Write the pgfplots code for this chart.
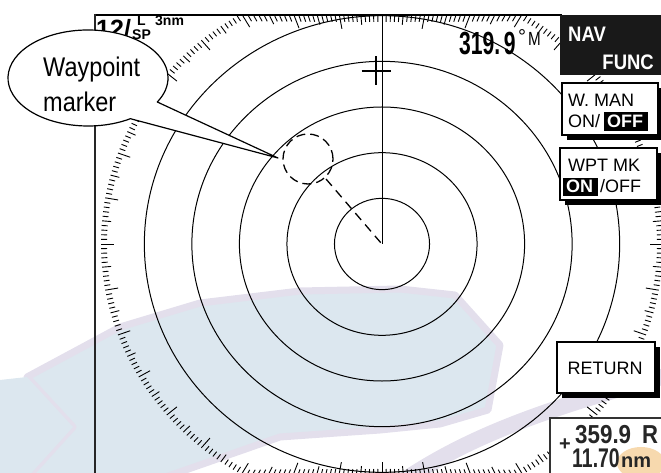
\documentclass[border=0pt]{standalone}
\usepackage{pgfplots}
\pgfplotsset{compat=1.18}
\usepackage{fontspec}
\setmainfont{Liberation Sans}
\usepackage{graphicx}
\definecolor{wmblue}{HTML}{DCE7EF}
\definecolor{wmlav}{HTML}{E3DFEC}
\definecolor{wmorange}{HTML}{F7D9AE}
\begin{document}
\begin{tikzpicture}
\useasboundingbox (0,0) rectangle (661pt,473pt);
\clip (0,0) rectangle (661pt,473pt);
% ---- faint watermark ----
\begin{scope}[shift={(0,473pt)}, x=1pt, y=-1pt]
\draw[wmlav, line width=16pt] (390,490) .. controls (470,432) and (560,405) .. (680,372);
\filldraw[fill=wmblue, draw=wmlav, line width=7pt, line join=round]
  (25,480) -- (73,427) -- (27,377) -- (120,327) -- (200,303) -- (300,291) -- (400,289) -- (455,295)
  -- (500,345) -- (488,410) -- (440,424) -- (380,430) -- (280,437) -- (157,480) -- cycle;
\fill[wmblue] (0,380) -- (27,377) -- (73,427) -- (25,480) -- (0,480) -- cycle;
\end{scope}
% ---- radar picture drawn from data ----
\begin{axis}[at={(0,0)}, anchor=south west,
  width=661pt, height=473pt, scale only axis,
  xmin=0, xmax=661, ymin=0, ymax=473, y dir=reverse,
  hide axis, clip=false]
% range rings (centre of picture, radius in px)
\addplot[only marks, mark=o, line width=1pt, mark size=46.6, mark options={xscale=1.02, yscale=0.98}] coordinates {(382,244)};
\addplot[only marks, mark=o, line width=1pt, mark size=93.2, mark options={xscale=1.02, yscale=0.98}] coordinates {(382,244)};
\addplot[only marks, mark=o, line width=1pt, mark size=139.8, mark options={xscale=1.02, yscale=0.98}] coordinates {(382,244)};
\addplot[only marks, mark=o, line width=1pt, mark size=186.4, mark options={xscale=1.02, yscale=0.98}] coordinates {(382,244)};
\addplot[only marks, mark=o, line width=1pt, mark size=233.0, mark options={xscale=1.02, yscale=0.98}] coordinates {(382,244)};
% heading line
\addplot[line width=1pt, mark=none] coordinates {(382,15) (382,244)};
% waypoint marker and its bearing line
\addplot[only marks, mark=o, line width=1.3pt, mark size=25, mark options={dash pattern=on 9pt off 5pt}] coordinates {(308,159)};
\addplot[line width=1.3pt, mark=none, dash pattern=on 9pt off 6pt] coordinates {(326,179) (381,243)};
% cursor
\addplot[only marks, mark=+, line width=2.6pt, mark size=14.5] coordinates {(376,71)};
\end{axis}
% ---- bearing scale, frame, labels ----
\begin{scope}[shift={(0,473pt)}, x=1pt, y=-1pt]
\foreach \t in {0,...,359}{
  \pgfmathsetmacro\ex{281*sin(\t)}
  \pgfmathsetmacro\ey{-266*cos(\t)}
  \pgfmathsetmacro\s{\ey<0 ? min(1,228/max(0-\ey,1)) : min(1,231/max(\ey,1))}
  \pgfmathsetmacro\L{mod(\t,10)==0 ? 13 : (mod(\t,5)==0 ? 9 : 6)}
  \pgfmathsetmacro\n{veclen(\ex,\ey)}
  \pgfmathsetmacro\px{382+\s*\ex}
  \pgfmathsetmacro\py{244+\s*\ey}
  \pgfmathsetmacro\qx{\px-\L*\ex/\n}
  \pgfmathsetmacro\qy{\py-\L*\ey/\n}
  \draw[line width=0.9pt] (\px,\py) -- (\qx,\qy);
}
% frame
\draw[line width=2.2pt] (95,15) -- (562,15);
\draw[line width=1.6pt, black!85] (95,14) -- (95,480);
% top-left readouts
\node[anchor=base west, inner sep=0, font=\bfseries\fontsize{25}{25}\selectfont] at (96,38) {12/};
\node[anchor=base west, inner sep=0, font=\bfseries\fontsize{14}{14}\selectfont] at (137,26) {L};
\node[anchor=base west, inner sep=0, font=\bfseries\fontsize{14}{14}\selectfont] at (132,40) {SP};
\node[anchor=base west, inner sep=0, font=\bfseries\fontsize{14}{14}\selectfont] at (155,26) {3nm};
% heading readout
\node[anchor=base west, inner sep=0, font=\bfseries\fontsize{32}{32}\selectfont] at (459,55) {\scalebox{0.66}[1]{319.\,9}};
\node[anchor=base west, inner sep=0, font=\fontsize{20}{20}\selectfont] at (518,44) {°};
\node[anchor=base west, inner sep=0, font=\fontsize{19}{19}\selectfont] at (528,46) {\scalebox{0.8}[1]{M}};
% callout bubble
\filldraw[fill=white, draw=black, line width=1.2pt, line join=round]
  ([shift={(88,78)}]58:80 and 48) arc[start angle=58, end angle=390, x radius=80, y radius=48]
  -- (278,158) -- cycle;
\node[anchor=base west, inner sep=0, font=\fontsize{27}{27}\selectfont] at (43,77) {\scalebox{0.87}[1]{Waypoint}};
\node[anchor=base west, inner sep=0, font=\fontsize{27}{27}\selectfont] at (43,112) {\scalebox{0.87}[1]{marker}};
% NAV FUNC
\fill[black!90] (560,15) rectangle (670,75);
\node[anchor=base west, inner sep=0, text=white, font=\bfseries\fontsize{21}{21}\selectfont] at (568,42) {\scalebox{0.88}[1]{NAV}};
\node[anchor=base east, inner sep=0, text=white, font=\bfseries\fontsize{21}{21}\selectfont] at (654,70) {\scalebox{0.88}[1]{FUNC}};
% W. MAN
\fill[black] (567,88) rectangle (663,140);
\filldraw[fill=white, draw=black, line width=1.5pt] (562,83) rectangle (658,135);
\node[anchor=base west, inner sep=0, font=\fontsize{18}{18}\selectfont] at (568,107) {W. MAN};
\node[anchor=base west, inner sep=0, font=\fontsize{18}{18}\selectfont] at (568,128) {ON/};
\fill[black] (604,112) rectangle (648,131);
\node[anchor=base west, inner sep=0, text=white, font=\bfseries\fontsize{18}{18}\selectfont] at (607,128) {OFF};
% WPT MK
\fill[black] (565,153) rectangle (662,205);
\filldraw[fill=white, draw=black, line width=1.5pt] (560,148) rectangle (657,200);
\node[anchor=base west, inner sep=0, font=\fontsize{18}{18}\selectfont] at (568,172) {WPT MK};
\fill[black] (563,178) rectangle (598,196);
\node[anchor=base west, inner sep=0, text=white, font=\bfseries\fontsize{18}{18}\selectfont] at (566,193) {ON};
\node[anchor=base west, inner sep=0, font=\fontsize{18}{18}\selectfont] at (600,193) {/OFF};
% RETURN
\fill[black] (562,347) rectangle (660,398);
\filldraw[fill=white, draw=black, line width=1.5pt] (557,342) rectangle (655,393);
\node[anchor=base, inner sep=0, font=\fontsize{18}{18}\selectfont] at (605,375) {RETURN};
% cursor readout
\fill[white] (550,418) rectangle (700,500);
\fill[wmorange] (641,463) ellipse [x radius=24, y radius=16];
\draw[black!80, line width=1.6pt] (550,500) -- (550,418) -- (700,418);
\node[anchor=base west, inner sep=0, font=\bfseries\fontsize{20}{20}\selectfont, text=black!85] at (559,451) {+};
\node[anchor=base west, inner sep=0, font=\bfseries\fontsize{26}{26}\selectfont, text=black!85] at (575,444) {\scalebox{0.86}[1]{359.9}};
\node[anchor=base west, inner sep=0, font=\bfseries\fontsize{26}{26}\selectfont, text=black!85] at (642,444) {\scalebox{0.85}[1]{R}};
\node[anchor=base west, inner sep=0, font=\bfseries\fontsize{27}{27}\selectfont, text=black!85] at (572,468) {\scalebox{0.72}[1]{11.70}};
\node[anchor=base west, inner sep=0, font=\bfseries\fontsize{20}{20}\selectfont, text=black!85] at (621,468) {nm};
\end{scope}
\end{tikzpicture}
\end{document}
